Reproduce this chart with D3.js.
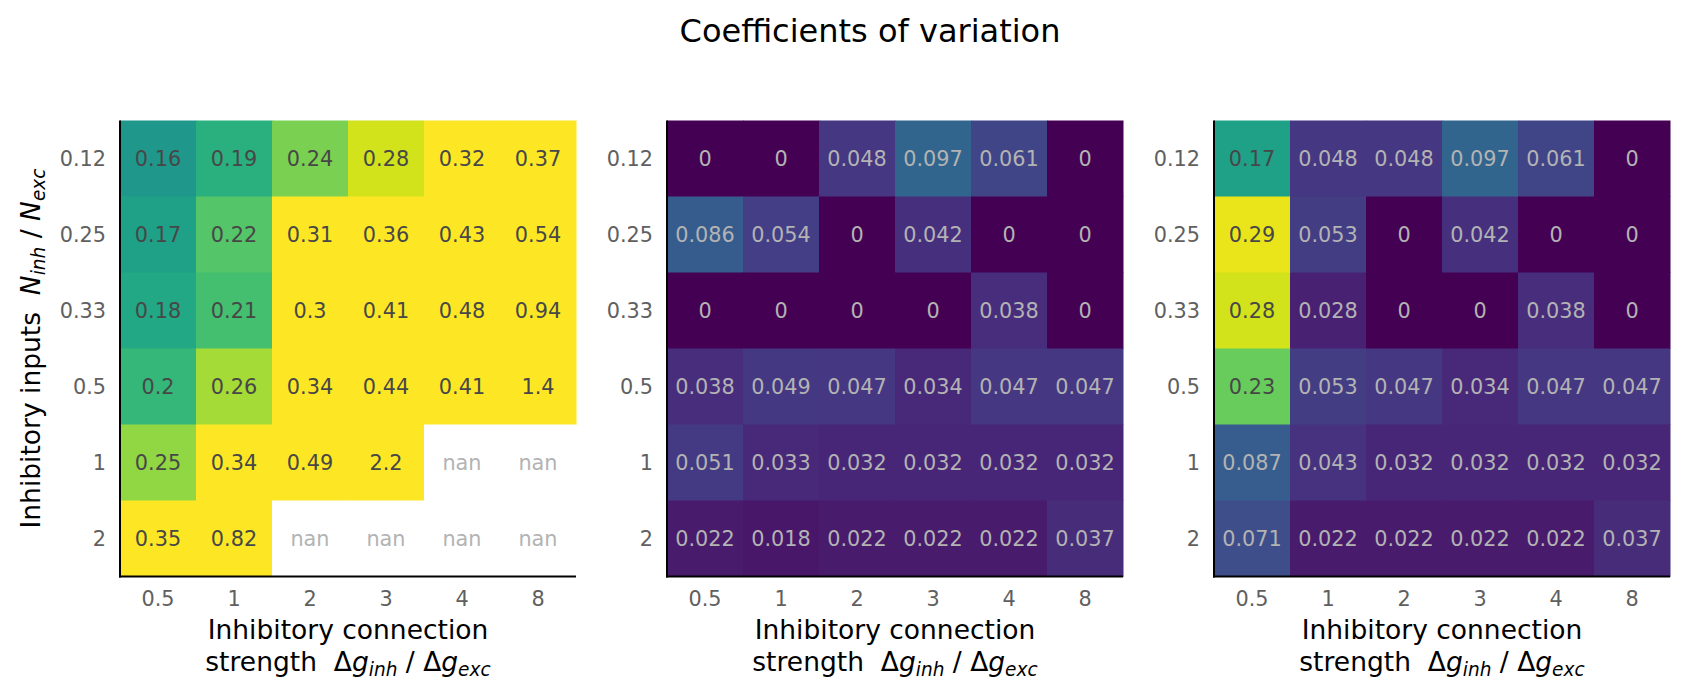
<!DOCTYPE html>
<html>
<head>
<meta charset="utf-8">
<script src="https://cdn.jsdelivr.net/npm/d3@7"></script>
<style>
  html, body { margin: 0; padding: 0; background: #fff; }
  svg { display: block; font-family: "DejaVu Sans", sans-serif; }
</style>
</head>
<body>
<svg id="chart" width="1688" height="698"></svg>
<script>
// ---- data ----
const xCategories = ["0.5", "1", "2", "3", "4", "8"];
const yCategories = ["0.12", "0.25", "0.33", "0.5", "1", "2"];

const panel1Values = [
  [0.16, 0.19, 0.24, 0.28, 0.32, 0.37],
  [0.17, 0.22, 0.31, 0.36, 0.43, 0.54],
  [0.18, 0.21, 0.3, 0.41, 0.48, 0.94],
  [0.2, 0.26, 0.34, 0.44, 0.41, 1.4],
  [0.25, 0.34, 0.49, 2.2, null, null],
  [0.35, 0.82, null, null, null, null]
];
const panel2Values = [
  [0, 0, 0.048, 0.097, 0.061, 0],
  [0.086, 0.054, 0, 0.042, 0, 0],
  [0, 0, 0, 0, 0.038, 0],
  [0.038, 0.049, 0.047, 0.034, 0.047, 0.047],
  [0.051, 0.033, 0.032, 0.032, 0.032, 0.032],
  [0.022, 0.018, 0.022, 0.022, 0.022, 0.037]
];
const panel3Values = [
  [0.17, 0.048, 0.048, 0.097, 0.061, 0],
  [0.29, 0.053, 0, 0.042, 0, 0],
  [0.28, 0.028, 0, 0, 0.038, 0],
  [0.23, 0.053, 0.047, 0.034, 0.047, 0.047],
  [0.087, 0.043, 0.032, 0.032, 0.032, 0.032],
  [0.071, 0.022, 0.022, 0.022, 0.022, 0.037]
];
const colorDomain = [0, 0.3];
const titleText = "Coefficients of variation";

// ---- layout ----
const svg = d3.select("#chart");
const panelLefts = [120, 667, 1214];
const panelTop = 120.5, panelSize = 456;
const tickFont = 20.8, labelFont = 26.5;

const color = d3.scaleSequential(d3.interpolateViridis).domain(colorDomain).clamp(true);
const norm = d3.scaleLinear().domain(colorDomain).clamp(true);

function fmt(v) {
  if (v === null || v === undefined || isNaN(v)) return "nan";
  if (v === 0) return "0";
  return String(+v.toPrecision(2));
}

svg.append("text")
  .attr("x", 870).attr("y", 42)
  .attr("text-anchor", "middle")
  .attr("font-size", 32)
  .attr("fill", "#000")
  .text(titleText);

function drawPanel(values, left, showYLabel) {
  const g = svg.append("g").attr("transform", `translate(${left},${panelTop})`);
  const x = d3.scaleBand().domain(xCategories).range([0, panelSize]).padding(0);
  const y = d3.scaleBand().domain(yCategories).range([0, panelSize]).padding(0);

  const cells = [];
  values.forEach((row, ri) => row.forEach((v, ci) => cells.push({ r: yCategories[ri], c: xCategories[ci], v })));

  g.selectAll("rect.cell").data(cells).join("rect")
    .attr("class", "cell")
    .attr("x", d => x(d.c)).attr("y", d => y(d.r))
    .attr("width", x.bandwidth() + 0.5).attr("height", y.bandwidth() + 0.5)
    .attr("fill", d => d.v === null ? "#ffffff" : color(d.v));

  g.selectAll("text.annot").data(cells).join("text")
    .attr("class", "annot")
    .attr("x", d => x(d.c) + x.bandwidth() / 2)
    .attr("y", d => y(d.r) + y.bandwidth() / 2)
    .attr("dy", "0.36em")
    .attr("text-anchor", "middle")
    .attr("font-size", tickFont)
    .attr("fill", d => (d.v !== null && norm(d.v) > 0.45) ? "#474747" : "#b3b3b3")
    .text(d => fmt(d.v));

  // axes (no tick marks)
  const xAxis = g.append("g").attr("transform", `translate(0,${panelSize})`)
    .call(d3.axisBottom(x).tickSize(0).tickPadding(14));
  const yAxis = g.append("g")
    .call(d3.axisLeft(y).tickSize(0).tickPadding(14));
  [xAxis, yAxis].forEach(a => {
    a.select(".domain").remove();
    a.selectAll("text").attr("font-size", tickFont).attr("fill", "#606060")
      .attr("font-family", "DejaVu Sans");
  });
  xAxis.selectAll("text").attr("dy", "0.73em");
  yAxis.selectAll("text").attr("dy", "0.36em");

  // spines
  g.append("line").attr("x1", 0).attr("x2", 0).attr("y1", 0).attr("y2", panelSize + 1)
    .attr("stroke", "#000").attr("stroke-width", 2);
  g.append("line").attr("x1", -1).attr("x2", panelSize).attr("y1", panelSize).attr("y2", panelSize)
    .attr("stroke", "#000").attr("stroke-width", 2);

  // x label
  const xl = g.append("text")
    .attr("x", panelSize / 2).attr("y", 639 - panelTop)
    .attr("text-anchor", "middle").attr("font-size", labelFont).attr("fill", "#000");
  xl.append("tspan").attr("x", panelSize / 2).text("Inhibitory connection");
  const l2 = g.append("text")
    .attr("x", panelSize / 2).attr("y", 671 - panelTop)
    .attr("text-anchor", "middle").attr("font-size", labelFont).attr("fill", "#000");
  l2.append("tspan").text("strength\u00a0\u00a0\u0394");
  l2.append("tspan").attr("font-style", "italic").text("g");
  l2.append("tspan").attr("font-style", "italic").attr("font-size", labelFont * 0.7).attr("dy", 5).text("inh");
  l2.append("tspan").attr("dy", -5).text(" / \u0394");
  l2.append("tspan").attr("font-style", "italic").text("g");
  l2.append("tspan").attr("font-style", "italic").attr("font-size", labelFont * 0.7).attr("dy", 5).text("exc");

  if (showYLabel) {
    const yl = svg.append("text")
      .attr("transform", `translate(39.5,${panelTop + panelSize / 2}) rotate(-90)`)
      .attr("text-anchor", "middle").attr("font-size", labelFont).attr("fill", "#000");
    yl.append("tspan").text("Inhibitory inputs\u00a0\u00a0");
    yl.append("tspan").attr("font-style", "italic").text("N");
    yl.append("tspan").attr("font-style", "italic").attr("font-size", labelFont * 0.7).attr("dy", 5).text("inh");
    yl.append("tspan").attr("dy", -5).text(" / ");
    yl.append("tspan").attr("font-style", "italic").text("N");
    yl.append("tspan").attr("font-style", "italic").attr("font-size", labelFont * 0.7).attr("dy", 5).text("exc");
  }
}

drawPanel(panel1Values, panelLefts[0], true);
drawPanel(panel2Values, panelLefts[1], false);
drawPanel(panel3Values, panelLefts[2], false);
</script>
</body>
</html>
